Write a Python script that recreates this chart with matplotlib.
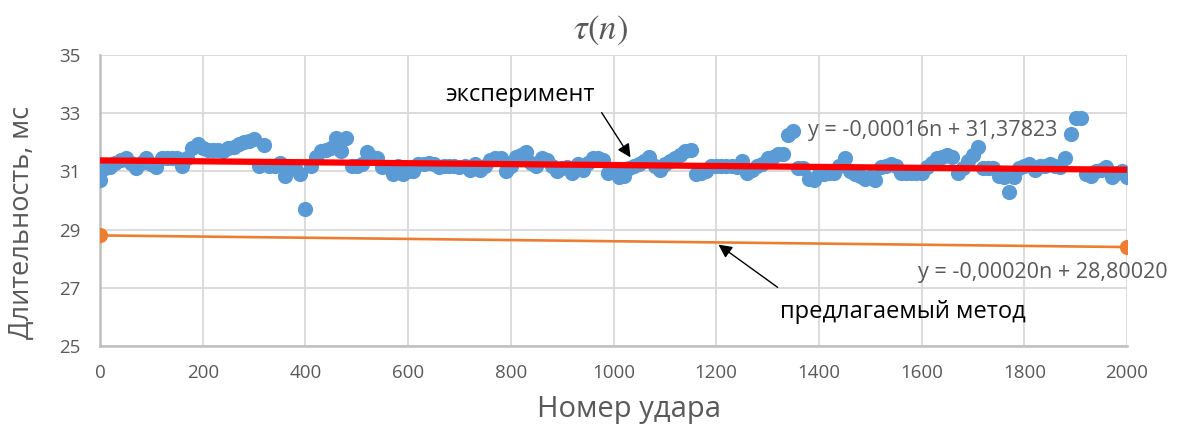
import numpy as np
import matplotlib
matplotlib.use("Agg")
import matplotlib.pyplot as plt

plt.rcParams['font.family'] = ['Open Sans', 'DejaVu Sans']
plt.rcParams['mathtext.fontset'] = 'stix'

# ---- data ----
n_step = 10
n_values = np.arange(0, 2001, n_step)
tau_exp = [
    30.7, 31.1, 31.15, 31.3, 31.4, 31.45, 31.3, 31.1, 31.3, 31.45,
    31.25, 31.15, 31.45, 31.45, 31.45, 31.45, 31.2, 31.45, 31.8, 31.95,
    31.8, 31.75, 31.75, 31.75, 31.7, 31.8, 31.85, 31.95, 32.0, 32.05,
    32.1, 31.2, 31.9, 31.2, 31.2, 31.3, 30.85, 31.15, 31.1, 30.9,
    29.7, 31.2, 31.5, 31.7, 31.75, 31.8, 32.15, 31.7, 32.15, 31.2,
    31.2, 31.25, 31.65, 31.5, 31.45, 31.15, 31.15, 30.9, 31.2, 30.9,
    31.0, 31.0, 31.25, 31.25, 31.3, 31.25, 31.15, 31.2, 31.2, 31.2,
    31.15, 31.2, 31.05, 31.25, 31.05, 31.2, 31.4, 31.45, 31.45, 31.0,
    31.2, 31.5, 31.55, 31.65, 31.3, 31.2, 31.45, 31.4, 31.2, 31.0,
    31.1, 31.15, 30.95, 31.25, 31.05, 31.3, 31.45, 31.45, 31.4, 30.95,
    31.05, 30.8, 30.85, 31.1, 31.2, 31.25, 31.35, 31.5, 31.2, 31.05,
    31.25, 31.35, 31.45, 31.55, 31.7, 31.75, 30.9, 30.95, 31.0, 31.2,
    31.2, 31.2, 31.2, 31.2, 31.15, 31.35, 30.95, 31.05, 31.2, 31.25,
    31.45, 31.5, 31.6, 31.6, 32.25, 32.4, 31.1, 31.1, 30.75, 30.7,
    30.9, 30.9, 30.95, 30.95, 31.2, 31.45, 31.0, 30.9, 30.85, 30.75,
    30.8, 30.7, 31.15, 31.2, 31.25, 31.2, 30.95, 30.95, 30.95, 30.95,
    30.95, 31.15, 31.3, 31.45, 31.5, 31.55, 31.5, 30.95, 31.1, 31.35,
    31.55, 31.85, 31.1, 31.1, 31.1, 30.85, 30.8, 30.3, 30.8, 31.1,
    31.2, 31.25, 31.05, 31.2, 31.2, 31.25, 31.2, 31.15, 31.45, 32.3,
    32.85, 32.85, 30.9, 30.85, 31.0, 31.05, 31.15, 30.8, 30.95, 31.0,
    30.8,
]
# trend of experiment: y = -0,00016n + 31,37823
trend_slope = -0.00016
trend_intercept = 31.37823
# proposed method line endpoints
method_n = [0, 2000]
method_tau = [28.8002, 28.4002]

x_ticks = list(range(0, 2001, 200))
y_ticks = [25, 27, 29, 31, 33, 35]

title_text = r'$\tau(n)$'
xlabel_text = 'Номер удара'
ylabel_text = 'Длительность, мс'
label_exp = 'эксперимент'
label_method = 'предлагаемый метод'
eq_exp = 'y = -0,00016n + 31,37823'
eq_method = 'y = -0,00020n + 28,80020'

# ---- figure ----
W, H = 1182, 428
fig = plt.figure(figsize=(W/100, H/100), dpi=100)
ax = fig.add_axes([100/W, 1-346/H, 1027/W, 291/H])

gray = '#595959'
ax.scatter(n_values, tau_exp, s=120, color='#5B9BD5', zorder=3, linewidths=0)
trend_n = np.array([0, 2000])
ax.plot(trend_n, trend_slope*trend_n + trend_intercept, color='#FF0000', lw=4.5, zorder=4,
        solid_capstyle='butt')
ax.plot(method_n, method_tau, color='#ED7D31', lw=1.9, zorder=3)
ax.scatter(method_n, method_tau, s=120, color='#ED7D31', zorder=4, linewidths=0)

ax.set_xlim(0, 2000)
ax.set_ylim(25, 35)
ax.set_xticks(x_ticks)
ax.set_yticks(y_ticks)
ax.grid(True, color='#d9d9d9', lw=1.3, zorder=0)
ax.set_axisbelow(True)
for s in ['top', 'right']:
    ax.spines[s].set_visible(False)
for s in ['left', 'bottom']:
    ax.spines[s].set_color('#bfbfbf')
    ax.spines[s].set_linewidth(1.8)
ax.tick_params(axis='x', length=0, labelsize=13.5, labelcolor=gray, pad=13)
ax.tick_params(axis='y', length=0, labelsize=13.5, labelcolor=gray, pad=14)

fig.text(629/W, 1-410/H, xlabel_text, fontsize=21, color=gray, ha='center', va='center')
fig.text(22/W, 1-222/H, ylabel_text, fontsize=19.5, color=gray, ha='center', va='center',
         rotation=90)
fig.text(601/W, 1-30/H, title_text, fontsize=25, color=gray, ha='center', va='center')

ax.text(818, 33.63, label_exp, fontsize=17, color='black', ha='center', va='center')
ax.annotate('', xy=(1036, 31.4), xytext=(974, 33.1),
            arrowprops=dict(arrowstyle='-|>', color='black', lw=1, mutation_scale=20))
ax.text(1379, 32.4, eq_exp, fontsize=15.5, color=gray, ha='left', va='center')
ax.text(1593, 27.54, eq_method, fontsize=15.5, color=gray, ha='left', va='center')
ax.text(1324, 26.17, label_method, fontsize=17, color='black', ha='left', va='center')
ax.annotate('', xy=(1200, 28.54), xytext=(1324, 26.96),
            arrowprops=dict(arrowstyle='-|>', color='black', lw=1, mutation_scale=20))

fig.savefig('out.png', dpi=100)
